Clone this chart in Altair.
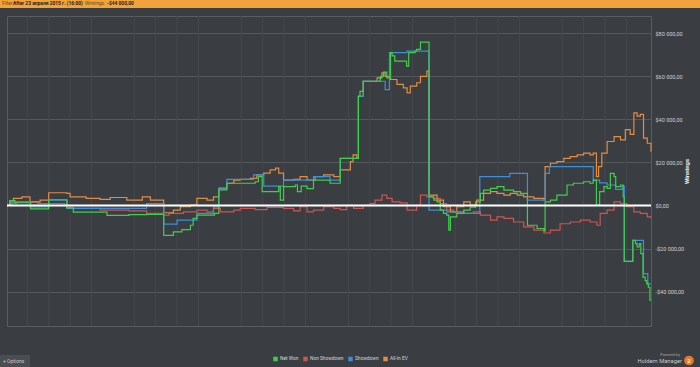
import altair as alt
import pandas as pd

# ---------------- data ----------------
series_names = ["Net Won", "Non Showdown", "Showdown", "All-In EV"]
series_colors = ["#3fd04a", "#cf5350", "#3d8fd6", "#e58c40"]

net_won_hands = [2, 7, 17, 46, 80, 114, 126, 189, 230, 263, 295, 313, 329, 345, 350, 357, 390, 398,
                 413, 466, 472, 479, 510, 513, 519, 541, 545, 552, 563, 575, 606, 625, 659, 662, 668,
                 700, 706, 712, 719, 722, 727, 749, 753, 765, 768, 775, 791, 800, 806, 812, 818, 824,
                 828, 831, 843, 856, 868, 878, 887, 893, 906, 918, 931, 949, 962, 975, 993, 1006,
                 1008, 1018, 1030, 1049, 1061, 1080, 1092, 1098, 1104, 1110, 1118, 1124, 1130, 1137,
                 1140, 1149, 1154, 1156, 1172, 1177, 1180, 1184, 1187, 1191, 1195, 1198, 1201, 1204, 1206]
net_won_values = [0, 2300, 1250, -1550, 2650, -1100, -3100, -4600, -4300, -4200, -13900, -12300,
                  -11200, -9200, -6000, -4500, -3700, 7200, 10300, 11000, 13400, 6400, 8700, 2500,
                  8700, 9500, 6400, 9000, 7800, 11800, 10300, 21900, 50700, 53000, 57700, 60000,
                  61900, 59300, 71000, 69500, 67000, 64700, 71000, 71700, 72500, 75900, 4000, 2500,
                  1700, -2200, -3700, -4500, -11500, -5300, -3700, -2200, -800, 1700, 5600, 7150,
                  7900, 8700, 7150, 6400, 5600, -9200, -10700, -11800, 1700, 2500, 4800, 9500, 10300,
                  11000, 10300, 11800, 0, 6400, 8700, 7900, 14900, 13400, 8700, 9500, 4000, -26000,
                  -16200, -17700, -19300, -17700, -22400, -33300, -34900, -36400, -38000, -44000, -44000]

showdown_hands = [2, 7, 46, 80, 114, 263, 295, 320, 357, 388, 398, 413, 463, 482, 519, 575, 606, 625,
                  659, 668, 709, 717, 750, 791, 824, 856, 886, 942, 975, 1008, 1016, 1098, 1110, 1124,
                  1140, 1152, 1156, 1172, 1192, 1200, 1206]
showdown_values = [0, 1700, -700, 2500, -1400, 900, -8700, -6800, -3700, -700, 8000, 12100, 14200,
                   9000, 11800, 13400, 11800, 21900, 50700, 57700, 53800, 71000, 71700, -2200, -3000,
                   -3700, 13400, 14900, 2500, 14900, 18000, 11800, 10500, 9500, 7500, 9000, -26000,
                   -16200, -31700, -36400, -36400]

non_showdown_hands = [2, 10, 20, 60, 110, 120, 176, 230, 263, 295, 305, 332, 357, 376, 388, 401, 426,
                      438, 466, 488, 519, 538, 550, 563, 575, 594, 613, 625, 637, 650, 668, 681, 690,
                      703, 712, 722, 737, 750, 768, 775, 787, 799, 812, 824, 837, 856, 874, 887, 906,
                      918, 931, 949, 968, 987, 1006, 1018, 1036, 1055, 1074, 1092, 1105, 1111, 1124,
                      1137, 1149, 1161, 1174, 1186, 1199, 1206]
non_showdown_values = [0, 900, 1700, 900, 0, -1400, -2200, -2500, -3700, -4500, -3700, -3000, -2200,
                       -3000, -1400, -3000, -2200, -1400, -1900, -900, -1400, -2500, -600, -3000,
                       -2200, -600, -1400, -1900, 0, -1400, 0, 800, 2500, 4800, 3300, 1700, 1200,
                       -2200, 0, 4800, 4000, 3300, 900, -2200, -3000, -3700, -3000, -4500, -6800,
                       -5300, -6000, -7700, -10000, -11500, -12800, -11500, -8500, -7700, -6800,
                       -7700, -9200, -3700, -2200, 1700, 900, -600, -3000, -3700, -5300, -6000]

all_in_ev_hands = [2, 8, 14, 30, 45, 64, 80, 114, 120, 150, 176, 195, 226, 255, 270, 295, 313, 326,
                   345, 357, 376, 388, 398, 413, 426, 438, 457, 469, 482, 494, 504, 510, 519, 538,
                   550, 563, 578, 594, 613, 625, 644, 649, 656, 659, 668, 694, 703, 709, 719, 731,
                   743, 750, 756, 768, 775, 787, 791, 806, 818, 831, 843, 856, 868, 880, 893, 906,
                   918, 931, 943, 956, 968, 987, 1006, 1008, 1018, 1030, 1043, 1055, 1068, 1080,
                   1092, 1098, 1104, 1108, 1114, 1124, 1137, 1149, 1158, 1167, 1174, 1180, 1186,
                   1192, 1199, 1206]
all_in_ev_values = [0, 1700, 3300, 4000, 1700, 2500, 5900, 5600, 4000, 3300, 2800, 3700, 2500, 4000,
                    2500, -3400, -2200, -600, 200, 3300, 2500, 4000, 7900, 10300, 11800, 12100,
                    12600, 14200, 15000, 16500, 17300, 15000, 11800, 12100, 13400, 11800, 13400,
                    14200, 13400, 16500, 20400, 23500, 21900, 50700, 57700, 59300, 61600, 60000,
                    58500, 56200, 54600, 52300, 55400, 57000, 60000, 62400, 4800, 2500, -600, -3000,
                    -600, 1700, 200, 2500, 5600, 6400, 5600, 4800, 5600, 4800, 4000, 3300, 2500,
                    18000, 19600, 20400, 21900, 22700, 23500, 24300, 23500, 24300, 13400, 18000,
                    24300, 29700, 32000, 30500, 35200, 33000, 43000, 41500, 42300, 31300, 28900, 25000]

x_ticks = [200, 400, 600, 800, 1000, 1200]
x_minor = [40, 80, 120, 160, 240, 280, 320, 360, 440, 480, 520, 560, 640, 680, 720, 760,
           840, 880, 920, 960, 1040, 1080, 1120, 1160]
y_ticks = [-40000, -20000, 0, 20000, 40000, 60000, 80000]

filter_label = "Filter:"
filter_value = "After 23 апреля 2015 г. (16:00)"
winnings_label = "Winnings:"
winnings_value = "-$44 000,00"

# ---------------- build table ----------------
rows = []
for name, hs, vs in [("Non Showdown", non_showdown_hands, non_showdown_values),
                     ("All-In EV", all_in_ev_hands, all_in_ev_values),
                     ("Showdown", showdown_hands, showdown_values),
                     ("Net Won", net_won_hands, net_won_values)]:
    for h, v in zip(hs, vs):
        rows.append({"hand": h, "value": v, "series": name})
df = pd.DataFrame(rows)

FONT = "Roboto"
W, H = 644, 310

x_scale = alt.Scale(domain=[2, 1206], nice=False, zero=False)
y_scale = alt.Scale(domain=[-56000, 88000], nice=False, zero=False)

x_enc = alt.X("hand:Q", scale=x_scale,
              axis=alt.Axis(values=x_ticks, title="Hands", grid=True,
                            labelExpr="replace(format(datum.value, ','), ',', ' ')",
                            labelPadding=3, titlePadding=3))
y_enc = alt.Y("value:Q", scale=y_scale,
              axis=alt.Axis(values=y_ticks, orient="right", title="Winnings", grid=True,
                            labelExpr="(datum.value < 0 ? '-' : '') + '$' + replace(format(abs(datum.value), ','), ',', ' ') + ',00'",
                            labelPadding=4, titlePadding=6, titleAngle=270))

minor_grid = alt.Chart(pd.DataFrame({"hand": x_minor})).mark_rule(
    color="#45484d", strokeWidth=1
).encode(x=alt.X("hand:Q", scale=x_scale, axis=None))

lines = alt.Chart(df).mark_line(interpolate="step-after", strokeWidth=1.2).encode(
    x=x_enc,
    y=y_enc,
    color=alt.Color("series:N",
                    scale=alt.Scale(domain=series_names, range=series_colors),
                    legend=alt.Legend(orient="none", legendX=266, legendY=340,
                                      direction="horizontal", title=None,
                                      symbolType="square", symbolSize=5,
                                      symbolStrokeWidth=2.2, labelFontSize=4.8,
                                      labelColor="#d8d8d8", labelFont=FONT,
                                      columnPadding=0, labelOffset=2, padding=0,
                                      gridAlign="each")),
    detail="series:N",
)

zero_line = alt.Chart(pd.DataFrame({"v": [0]})).mark_rule(color="white", strokeWidth=2).encode(
    y=alt.Y("v:Q", scale=y_scale)
)

one = pd.DataFrame({"a": [1]})

title_bar = alt.Chart(one).mark_rect(color="#f0a33d").encode(
    x=alt.value(-7), x2=alt.value(693), y=alt.value(-16), y2=alt.value(-8))


def txt(text, x, y, size=5, color="#222222", weight="normal", align="left"):
    return alt.Chart(one).mark_text(
        text=text, fontSize=size, font=FONT, color=color, fontWeight=weight,
        align=align, baseline="middle"
    ).encode(x=alt.value(x), y=alt.value(y))


t1 = txt(filter_label, -5, -12, size=4.6, color="#6b4a14")
t2 = txt(filter_value, 6, -12, size=4.9, color="#1d1d1d", weight="bold")
t3 = txt(winnings_label, 78, -12, size=4.6, color="#6b4a14")
t4 = txt(winnings_value, 100, -12, size=4.9, color="#1d1d1d", weight="bold")

options_box = alt.Chart(one).mark_rect(color="#4a4d52").encode(
    x=alt.value(-7), x2=alt.value(23), y=alt.value(339), y2=alt.value(351))
options_txt = txt("+  Options", -4, 345, size=5, color="#c8c8c8")

powered = txt("Powered by", 673, 339, size=3.8, color="#a8a8a8", align="right")
hm_txt = txt("Holdem Manager", 675, 345, size=5.8, color="#c8c8c8", align="right")
logo = alt.Chart(one).mark_circle(color="#e8772e", opacity=1, size=95).encode(
    x=alt.value(682), y=alt.value(344.5))
logo_txt = txt("2", 682, 344.5, size=6, color="white", weight="bold", align="center")

chart = alt.layer(
    minor_grid, lines, zero_line,
    title_bar, t1, t2, t3, t4,
    options_box, options_txt, powered, hm_txt, logo, logo_txt,
).resolve_scale(color="independent").properties(
    width=W, height=H,
    padding={"left": 7, "top": 16, "right": 49, "bottom": 41},
    autosize=alt.AutoSizeParams(type="none"),
    background="#3a3d42",
).configure_view(
    stroke="#595c61", strokeWidth=1, fill="#3a3d42"
).configure_axis(
    labelColor="#d0d0d0", labelFont=FONT, labelFontSize=5.5,
    titleColor="#f0f0f0", titleFont=FONT, titleFontSize=6, titleFontWeight="bold",
    domain=False, ticks=False, gridColor="#55585d", gridWidth=1,
)

chart.save("out.html", embed_options={"renderer": "svg", "actions": False})
